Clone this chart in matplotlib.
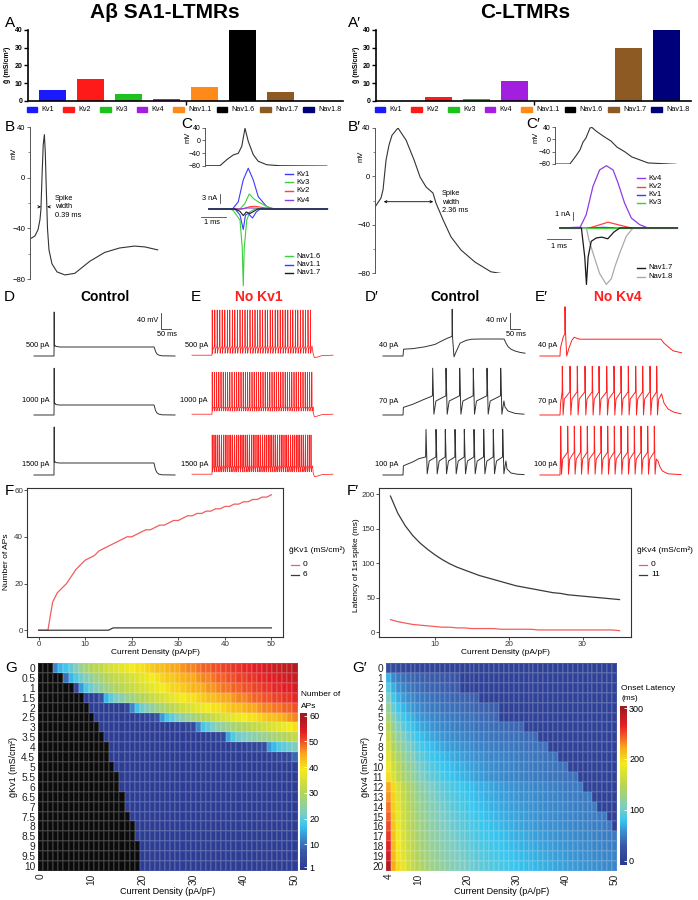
import matplotlib
matplotlib.use("Agg")
import matplotlib.pyplot as plt
import numpy as np
from matplotlib.colors import LinearSegmentedColormap, Normalize
from matplotlib.lines import Line2D
from matplotlib.patches import Rectangle
from matplotlib.ticker import MultipleLocator

plt.rcParams["font.family"] = ["Liberation Sans", "DejaVu Sans"]

W, H = 698, 900

# ---------------- data ----------------
channels = ["Kv1", "Kv2", "Kv3", "Kv4", "Nav1.1", "Nav1.6", "Nav1.7", "Nav1.8"]
channel_colors = ["#1a1aff", "#ff1a1a", "#1ec21e", "#a21fe0", "#ff8a1a", "#000000", "#8c5a22", "#00007a"]
gbar_sa1 = [6, 12, 4, 0.8, 8, 40, 5, 0]
gbar_c = [0, 2, 0.9, 11, 0, 0, 30, 40]

# B: SA1 action potential (ms, mV)
b_t = [0, 0.43, 0.7, 0.87, 0.95, 1.05, 1.15, 1.25, 1.33, 1.42, 1.52, 1.65, 1.91, 2.35, 3.04,
       3.9, 5.2, 6.5, 7.8, 9.1, 10.0, 11.1]
b_v = [-48.4, -46, -41, -33, -25, 2, 26, 34, 20, -10, -40, -57, -68, -74.4, -76.8,
       -75.5, -66, -59, -55.5, -54, -54.7, -57]
# C: SA1 spike and currents
c_vt = [0, 0.6, 0.87, 1.13, 1.33, 1.47, 1.6, 1.73, 1.93, 2.13, 2.47, 3.0, 4.87]
c_vv = [-80, -80, -61, -46, -41, -19, 38, -3, -45, -66, -77, -80, -81]
c_currents = [
    ("Kv1", "#3b3bff", [0.15, 1.1, 1.33, 1.53, 1.73, 1.93, 2.13, 2.47, 2.73, 4.9],
     [0, 0, 2.4, 9.7, 13.6, 9.7, 4.1, 0.8, 0, 0]),
    ("Kv3", "#3ccf3c", [0.15, 1.4, 1.6, 1.77, 1.95, 2.13, 2.47, 2.8, 4.9],
     [0, 0, 1.9, 5.0, 3.4, 2.4, 0.8, 0, 0]),
    ("Kv2", "#ff4040", [0.15, 1.5, 1.8, 2.0, 2.4, 2.8, 4.9], [0, 0, 0.8, 0.9, 0.4, 0, 0]),
    ("Kv4", "#8c3ce6", [0.15, 1.4, 1.7, 2.0, 2.5, 4.9], [0, 0, 0.35, 0.3, 0, 0]),
    ("Nav1.6", "#3ccf3c", [0.15, 1.0, 1.13, 1.4, 1.49, 1.53, 1.57, 1.67, 1.8, 2.0, 4.9],
     [0, 0, -0.5, -3.7, -13, -25.6, -13, -3.7, -0.9, 0, 0]),
    ("Nav1.1", "#3b3bff", [0.15, 1.2, 1.4, 1.53, 1.62, 1.73, 1.9, 2.05, 2.2, 4.9],
     [0, 0, -2, -6.8, -2, -1.5, -3, -1, 0, 0]),
    ("Nav1.7", "#1a1a1a", [0.15, 1.2, 1.4, 1.53, 1.65, 1.8, 1.95, 2.1, 4.9],
     [0, 0, -0.8, -2.2, -1, -1.5, -0.8, 0, 0]),
]
# B': C-LTMR action potential
bp_t = [0, 0.26, 0.35, 0.48, 0.61, 0.74, 1.0, 1.35, 1.7, 1.96, 2.22, 2.52, 2.65, 2.96, 3.3,
        3.74, 4.35, 5.04, 6.0]
bp_v = [-25.4, -18, -11, 13.5, 26, 34, 40, 30, 13.5, -0.6, -8.8, -13.8, -22, -36, -50,
        -61, -71, -79, -82]
# C': C-LTMR spike and currents
cp_vt = [0, 0.62, 0.87, 1.04, 1.17, 1.29, 1.46, 1.54, 1.71, 2.0, 2.33, 2.58, 2.92, 3.2, 3.88, 5.04]
cp_vv = [-80, -80, -54, -34.5, -8.6, 4.3, 37, 38.4, 27, 11, -5.4, -25, -41, -57, -76.6, -81]
cp_currents = [
    ("Kv4", "#8c3ce6", [0.2, 1.05, 1.3, 1.58, 1.86, 2.14, 2.42, 2.63, 2.9, 3.18, 3.53, 3.88, 5.1],
     [0, 0.1, 1.6, 5.0, 7.0, 7.5, 7.0, 5.4, 3.0, 1.2, 0.4, 0, 0]),
    ("Kv2", "#ff4040", [0.2, 1.4, 1.66, 2.21, 2.76, 3.18, 5.1], [0, 0, 0.2, 0.7, 0.3, 0, 0]),
    ("Kv1", "#3b3bff", [0.2, 1.4, 2.0, 2.6, 5.1], [0, 0, 0.08, 0, 0]),
    ("Kv3", "#3ccf3c", [0.2, 5.1], [0, 0]),
    ("Nav1.8", "#aaaaaa", [0.2, 1.31, 1.41, 1.58, 1.86, 2.14, 2.35, 2.49, 2.7, 2.97, 3.25, 5.1],
     [0, 0, -1.4, -3.0, -5.5, -6.8, -6.1, -4.7, -3.0, -1.0, 0, 0]),
    ("Nav1.7", "#1a1a1a", [0.2, 1.1, 1.24, 1.31, 1.38, 1.51, 1.72, 1.95, 2.2, 2.45, 2.7, 5.1],
     [0, 0, -3.5, -6.8, -3.5, -1.6, -1.2, -1.1, -1.3, -0.5, 0, 0]),
]

# D: SA1 control, single spike at step onset
d_rows = [
    ("500 pA", [0, 100, 100.3, 101, 102, 104, 110, 130, 600, 603, 608, 615, 625, 640, 705],
     [-65, -65, -45, 45, -40, -38, -41, -42.5, -42.5, -46, -54, -60, -63, -64.5, -65]),
    ("1000 pA", [0, 100, 100.3, 101, 102, 104, 110, 130, 600, 603, 608, 615, 625, 640, 705],
     [-65, -65, -42, 52, -37, -35, -39, -40, -40, -45, -54, -60, -63, -64.5, -65]),
    ("1500 pA", [0, 100, 100.3, 101, 102, 104, 110, 130, 600, 603, 608, 615, 625, 640, 705],
     [-65, -65, -38, 55, -33, -31, -34, -35, -35, -42, -52, -59, -63, -64.5, -65]),
]
# E: SA1 without Kv1, spike times (ms)
e_spikes_500 = [101, 114, 126, 139, 151, 164, 177, 189, 202, 214, 227, 240, 252, 265, 277, 290,
                303, 315, 328, 340, 353, 366, 378, 391, 403, 416, 429, 441, 454, 466, 479, 492,
                504, 517, 529, 542, 555, 567, 580, 592]
e_spikes_1000 = [101, 112, 123, 134, 145, 156, 167, 178, 189, 200, 212, 223, 234, 245, 256, 267,
                 278, 289, 300, 311, 322, 333, 344, 355, 366, 378, 389, 400, 411, 422, 433, 444,
                 455, 466, 477, 488, 499, 510, 521, 532, 544, 555, 566, 577, 588, 599]
e_spikes_1500 = [101, 110, 119, 129, 138, 147, 157, 166, 175, 185, 194, 203, 213, 222, 231, 241,
                 250, 259, 269, 278, 287, 297, 306, 315, 325, 334, 343, 353, 362, 371, 381, 390,
                 399, 409, 418, 427, 437, 446, 455, 465, 474, 483, 493, 502, 511, 521, 530, 539,
                 549, 558, 567, 577, 586, 595]
# D': C-LTMR control
dp_40_t = [0, 100, 103, 150, 210, 260, 293, 320, 340, 345, 346, 348, 355, 365, 385, 415, 443,
           500, 600, 606, 615, 626, 640, 660, 685, 710]
dp_40_v = [-65, -65, -48, -46.5, -42, -36, -27.5, -21, -17, -16, 52, -20, -67, -55, -33, -26,
           -23, -22.5, -22.5, -23, -33, -42, -48, -52.5, -56, -58]
dp_spikes_70 = [248.5, 315, 383.5, 451.5, 520, 588.5]
dp_spikes_100 = [215, 265, 311.5, 360, 406.5, 455, 503.5, 551.5, 598.5]
# E': C-LTMR without Kv4
ep_40_t = [0, 100, 102, 116.5, 124, 125, 127, 133.5, 145, 160, 171.5, 185, 200, 605, 620, 641,
           665, 708]
ep_40_v = [-65, -65, -45, -17, -10, 58, 0, -65, -45, -25, -18, -21, -23, -23, -33, -42, -52, -57]
ep_spikes_70 = [111.5, 150, 186.5, 225, 261.5, 295, 333.5, 370, 405, 441.5, 478.5, 513.5, 550, 583.5]
ep_spikes_100 = [103.5, 138.5, 171.5, 203.5, 236.5, 271.5, 305, 338.5, 371.5, 405, 438.5, 471.5,
                 505, 538.5, 571.5]

# G: number of APs, rows gKv1 = 0..10 (step 0.5), columns 0..50 pA/pF
density = list(range(0, 51))
gkv1_labels = ["0", "0.5", "1", "1.5", "2", "2.5", "3", "3.5", "4", "4.5", "5", "5.5", "6",
               "6.5", "7", "7.5", "8", "8.5", "9", "9.5", "10"]
aps_grid = [
    [0, 0, 0, 12, 16, 18, 20, 23, 26, 28, 30, 31, 32, 34, 35, 36, 37, 38, 39, 40, 40, 41, 42, 43,
     43, 44, 45, 45, 46, 47, 47, 48, 49, 49, 50, 50, 51, 51, 52, 52, 53, 53, 54, 54, 55, 55, 56,
     56, 57, 57, 58],
    [0] * 5 + [10, 16, 19, 21, 23, 25, 27, 28, 30, 31, 32, 33, 34, 35, 36, 37, 38, 39, 40, 41, 42,
               42, 43, 44, 45, 45, 46, 47, 47, 48, 49, 49, 50, 50, 51, 51, 52, 52, 53, 53, 54,
               54, 55, 55, 56, 56],
    [0] * 7 + [3, 14, 19, 21, 23, 25, 27, 28, 30, 31, 32, 33, 34, 35, 36, 37, 38, 39, 40, 41, 41,
               42, 43, 44, 44, 45, 46, 46, 47, 48, 48, 49, 49, 50, 50, 51, 51, 52, 52, 53, 53,
               54, 54, 55],
    [0] * 9 + [1, 1, 2, 6, 16, 20, 22, 24, 26, 27, 29, 30, 31, 33, 34, 35, 36, 37, 38, 39, 40,
               40, 41, 42, 43, 43, 44, 45, 45, 46, 47, 47, 48, 49, 49, 50, 50, 51, 51, 52, 52, 53],
    [0] * 10 + [1] * 7 + [3, 12, 18, 21, 23, 25, 27, 28, 30, 31, 32, 34, 35, 36, 37, 38, 39, 40,
                          40, 41, 42, 43, 43, 44, 45, 45, 46, 47, 47, 48, 48, 49, 49, 50],
    [0] * 11 + [1] * 8 + [2, 2, 3, 4, 6, 14, 18, 20, 22, 24, 26, 27, 29, 30, 31, 33, 34, 35, 36,
                          37, 38, 39, 40, 40, 41, 42, 43, 43, 44, 45, 46, 47],
    [0] * 12 + [1] * 15 + [2, 2, 3, 4, 12, 18, 20, 22, 24, 25, 27, 28, 29, 30, 31, 32, 33, 34,
                           35, 36, 37, 38, 39, 40],
    [0] * 13 + [1] * 20 + [2, 2, 3, 4, 15, 19, 21, 22, 23, 24, 25, 26, 27, 28, 29, 30, 31, 32],
    [0] * 14 + [1] * 24 + [2, 2, 2, 3, 3, 4, 5, 14, 16, 19, 20, 21, 22],
    [0] * 14 + [1] * 31 + [2, 2, 3, 3, 4, 9],
    [0] * 15 + [1] * 36,
    [0] * 16 + [1] * 35,
    [0] * 16 + [1] * 35,
    [0] * 17 + [1] * 34,
    [0] * 17 + [1] * 34,
    [0] * 18 + [1] * 33,
    [0] * 19 + [1] * 32,
    [0] * 19 + [1] * 32,
    [0] * 20 + [1] * 31,
    [0] * 20 + [1] * 31,
    [0] * 20 + [1] * 31,
]

# G': onset latency (ms), rows gKv4 = 0..20, columns 4..50 pA/pF
density_lat = list(range(4, 51))
gkv4_labels = [str(k) for k in range(0, 21)]
latency_grid = [
    [18, 15, 13, 11, 10, 9, 8, 7, 7, 6, 6, 5, 5, 5, 5, 4, 4, 4, 4, 4, 3, 3, 3, 3, 3, 3, 3, 3, 3,
     3, 3, 2, 2, 2, 2, 2, 2, 2, 2, 2, 2, 2, 2, 2, 2, 2, 2],
    [72, 55, 47, 42, 39, 37, 35, 34, 33, 32, 31, 30, 29, 28, 27] + [3] * 32,
    [90, 70, 59, 52, 47, 44, 41, 39, 37, 36, 35, 34, 33, 32, 31] + [3] * 32,
    [105, 84, 71, 63, 57, 53, 50, 47, 45, 43, 41, 40, 39, 38, 37, 36, 35, 34, 33] + [3] * 28,
    [120, 97, 83, 73, 66, 61, 57, 53, 50, 48, 46, 44, 43, 42, 41, 40, 39, 38, 37, 36, 35, 34,
     33] + [3] * 24,
    [134, 110, 94, 83, 75, 69, 64, 60, 57, 54, 52, 50, 48, 47, 46, 44, 43, 42, 41, 40, 39, 38,
     37] + [3] * 24,
    [146, 122, 106, 94, 85, 78, 72, 67, 63, 60, 57, 55, 53, 51, 49, 48, 46, 45, 44, 43, 42, 41,
     40, 40, 39, 38, 38, 37] + [3] * 19,
    [158, 135, 118, 106, 96, 88, 81, 76, 71, 67, 64, 61, 59, 57, 55, 53, 51, 50, 49, 47, 46, 45,
     44, 44, 43, 42, 42, 41, 40, 40, 39] + [3] * 16,
    [168, 145, 128, 116, 106, 97, 90, 84, 79, 75, 71, 68, 65, 63, 61, 59, 57, 55, 54, 52, 51, 50,
     49, 48, 47, 46, 45, 45, 44, 43, 43, 42, 42] + [3] * 14,
    [178, 155, 138, 125, 115, 106, 98, 92, 87, 82, 78, 75, 72, 69, 67, 64, 62, 60, 58, 57, 55,
     54, 53, 52, 51, 50, 49, 48, 47, 46, 45, 45, 44, 43, 43] + [3] * 12,
    [188, 165, 148, 134, 123, 114, 106, 100, 94, 89, 85, 81, 78, 75, 72, 70, 67, 65, 63, 61, 59,
     57, 56, 54, 53, 52, 51, 50, 49, 48, 47, 46, 45, 45, 44, 43, 43] + [3] * 10,
    [197, 172, 154, 140, 129, 120, 112, 105, 99, 94, 90, 86, 82, 79, 76, 73, 70, 67, 65, 63, 61,
     59, 57, 56, 54, 53, 52, 51, 50, 49, 48, 47, 46, 45, 45, 44, 43, 43, 42] + [3] * 8,
    [222, 200, 172, 154, 141, 130, 121, 114, 108, 103, 98, 94, 90, 87, 84, 81, 78, 75, 73, 71,
     69, 67, 65, 63, 61, 60, 58, 57, 56, 55, 54, 53, 52, 51, 50, 49, 48, 48, 47, 46] + [3] * 7,
    [228, 203, 176, 158, 145, 134, 125, 118, 112, 106, 101, 97, 93, 90, 87, 84, 81, 78, 76, 74,
     71, 69, 67, 65, 64, 62, 61, 59, 58, 57, 56, 55, 54, 53, 52, 51, 50, 49, 49, 48, 47, 47]
    + [3] * 5,
    [236, 205, 180, 162, 149, 138, 129, 122, 115, 110, 105, 101, 97, 93, 90, 87, 84, 81, 79, 77,
     74, 72, 70, 68, 66, 65, 63, 62, 60, 59, 58, 57, 56, 55, 54, 53, 52, 51, 50, 50, 49, 48, 48]
    + [3] * 4,
    [243, 207, 183, 166, 152, 141, 132, 125, 118, 113, 108, 104, 100, 96, 93, 90, 87, 84, 82, 80,
     77, 75, 73, 71, 69, 67, 66, 64, 63, 61, 60, 59, 58, 57, 56, 55, 54, 53, 52, 51, 50, 49, 49,
     48, 47] + [3] * 2,
    [250, 209, 186, 169, 155, 144, 135, 128, 121, 116, 111, 107, 103, 99, 96, 93, 90, 87, 85, 82,
     80, 78, 76, 74, 72, 70, 68, 67, 65, 64, 62, 61, 60, 59, 58, 57, 56, 55, 54, 53, 52, 51, 50,
     50, 49, 48] + [3],
    [257, 211, 189, 172, 158, 147, 138, 131, 124, 119, 114, 110, 106, 102, 99, 96, 93, 90, 87, 85,
     83, 81, 79, 77, 75, 73, 71, 70, 68, 66, 65, 64, 62, 61, 60, 59, 58, 57, 56, 55, 54, 53, 52,
     51, 50, 49, 48],
    [265, 213, 192, 175, 161, 150, 141, 134, 127, 122, 117, 113, 109, 105, 102, 99, 96, 93, 90,
     88, 86, 84, 82, 80, 78, 76, 74, 72, 71, 69, 68, 66, 65, 64, 62, 61, 60, 59, 58, 57, 56, 55,
     54, 53, 52, 51, 50],
    [275, 216, 195, 178, 164, 153, 144, 137, 130, 125, 120, 116, 112, 108, 105, 102, 99, 96, 93,
     91, 89, 87, 85, 83, 81, 79, 77, 75, 74, 72, 71, 69, 68, 66, 65, 64, 62, 61, 60, 59, 58, 57,
     56, 55, 54, 53, 52],
    [290, 220, 198, 181, 167, 156, 147, 140, 133, 128, 123, 119, 115, 111, 108, 105, 102, 99, 96,
     94, 92, 90, 88, 86, 84, 82, 80, 78, 76, 75, 73, 72, 70, 69, 67, 66, 65, 63, 62, 61, 60, 59,
     58, 57, 56, 55, 54],
]

heat_stops = [0.0, 0.12, 0.21, 0.28, 0.36, 0.5, 0.64, 0.74, 0.82, 0.88, 0.97, 1.0]
heat_colors = ["#2a3990", "#3b57a7", "#3a8fd0", "#36c5f0", "#7dcdc4", "#b7d554", "#f3eb1b",
               "#f9a81b", "#f0512a", "#e41f26", "#a81a1e", "#9b1b1e"]
heat_cmap = LinearSegmentedColormap.from_list("heat", list(zip(heat_stops, heat_colors)))

RED = "#ff2020"
FRED = "#f25c5c"
FBLACK = "#3a3a3a"

fig = plt.figure(figsize=(W / 100, H / 100), dpi=100)


def px_axes(x0, y0, x1, y1):
    return fig.add_axes([x0 / W, 1 - y1 / H, (x1 - x0) / W, (y1 - y0) / H])


def ftext(x, y, s, **kw):
    kw.setdefault("va", "center")
    kw.setdefault("ha", "left")
    fig.text(x / W, 1 - y / H, s, **kw)


def fline(xs, ys, **kw):
    fig.add_artist(Line2D([x / W for x in xs], [1 - y / H for y in ys], **kw))


# ---------- titles and panel letters ----------
ftext(165, 13, "Aβ SA1-LTMRs", ha="center", fontsize=15, fontweight="bold")
ftext(525, 13, "C-LTMRs", ha="center", fontsize=15, fontweight="bold")
for lab, x, y in [("A", 5, 23), ("A′", 348, 23), ("B", 5, 127), ("C", 181, 124),
                  ("B′", 348, 127), ("C′", 526, 124), ("D", 4, 297), ("E", 191, 297),
                  ("D′", 365, 297), ("E′", 535, 297), ("F", 5, 491), ("F′", 347, 491),
                  ("G", 5, 668), ("G′", 352, 668)]:
    ftext(x, y, lab, fontsize=11)

# ---------- A / A' bar charts ----------
legend_x = [26.7, 63.3, 100, 136.7, 173.3, 216.7, 260, 303.3]
for x0, vals in [(0, gbar_sa1), (348, gbar_c)]:
    ax = px_axes(x0 + 28, 30, x0 + 343, 100.7)
    ax.bar(range(len(channels)), vals, width=0.71, color=channel_colors)
    ax.set_xlim(-0.645, 7.64)
    ax.set_ylim(0, 40)
    ax.spines[["top", "right"]].set_visible(False)
    ax.spines[["left", "bottom"]].set_linewidth(1.2)
    ax.set_yticks([0, 10, 20, 30, 40])
    ax.set_xticks([3.5])
    ax.set_xticklabels([""])
    ax.tick_params(length=3, width=1, labelsize=5, pad=1)
    for t in ax.get_yticklabels():
        t.set_fontweight("bold")
    ftext(x0 + 8, 65, "ḡ (mS/cm²)", ha="center", rotation=90, fontsize=5, fontweight="bold")
    for i, (name, col) in enumerate(zip(channels, channel_colors)):
        lx = x0 + legend_x[i]
        fig.add_artist(Rectangle((lx / W, 1 - 111.5 / H), 10.7 / W, 4.7 / H,
                                 transform=fig.transFigure, color=col))
        ftext(lx + 15, 109.2, name, fontsize=5.2)


def mv_axis(ax, labelsize):
    ax.set_ylim(-80, 40)
    ax.set_yticks([-80, -40, 0, 40])
    ax.yaxis.set_minor_locator(MultipleLocator(20))
    ax.spines[["top", "right", "bottom"]].set_visible(False)
    ax.spines["left"].set_linewidth(0.7)
    ax.spines["left"].set_color("#555555")
    ax.set_xticks([])
    ax.tick_params(axis="y", which="major", length=2.5, width=0.6, labelsize=labelsize, pad=1,
                   color="#555555")
    ax.tick_params(axis="y", which="minor", length=1.5, width=0.5, color="#555555")
    ax.patch.set_alpha(0)


# ---------- B ----------
ax = px_axes(30, 127, 168, 279)
ax.plot(b_t, b_v, color="#333333", lw=0.8)
ax.set_xlim(0, 12)
mv_axis(ax, 5.5)
ax.annotate("", xy=(0.95, -23), xytext=(0.55, -23),
            arrowprops=dict(arrowstyle="->", lw=0.6, mutation_scale=4))
ax.annotate("", xy=(1.5, -23), xytext=(1.9, -23),
            arrowprops=dict(arrowstyle="->", lw=0.6, mutation_scale=4))
ftext(14, 153, "mV", ha="center", rotation=90, fontsize=5.5)
ftext(55, 207, "Spike\nwidth\n0.39 ms", fontsize=5.3, linespacing=1.25)

# ---------- C ----------
ax = px_axes(205, 127.7, 330, 165.7)
ax.plot(c_vt, c_vv, color="#333333", lw=0.8)
ax.set_xlim(0, 5)
mv_axis(ax, 5)
ax.yaxis.set_minor_locator(MultipleLocator(40))
ftext(188, 137, "mV", ha="center", rotation=90, fontsize=5.5)

ax = px_axes(205, 160, 330, 292)
for name, col, tt, ii in c_currents:
    ax.plot(tt, ii, color=col, lw=0.8)
ax.set_xlim(0, 5)
ax.set_ylim(-(292 - 209) / 3, (209 - 160) / 3)
ax.axis("off")
ax.plot([0.6, 0.6], [2.1, 5.1], color="#444444", lw=0.6, clip_on=False)
ax.plot([-0.16, 0.84], [-2.6, -2.6], color="#444444", lw=0.6, clip_on=False)
ftext(217, 198, "3 nA", ha="right", fontsize=5.3)
ftext(212, 222.5, "1 ms", ha="center", fontsize=5.3)
for (name, col, _, _), y in zip(c_currents, [174, 182, 191, 200, 256, 264.5, 273]):
    fline([285, 293], [y, y], color=col, lw=1.0)
    ftext(296, y, name, fontsize=5.5)

# ---------- B' ----------
ax = px_axes(375, 128, 524.5, 273)
ax.plot(bp_t, bp_v, color="#333333", lw=0.8)
ax.set_xlim(0, 6.5)
mv_axis(ax, 5.5)
ax.annotate("", xy=(0.26, -21), xytext=(2.65, -21),
            arrowprops=dict(arrowstyle="<->", lw=0.6, mutation_scale=4))
ftext(361, 156, "mV", ha="center", rotation=90, fontsize=5.5)
ftext(442, 202, "Spike\nwidth\n2.36 ms", fontsize=5.3, linespacing=1.25)

# ---------- C' ----------
ax = px_axes(555, 127, 680, 164)
ax.plot(cp_vt, cp_vv, color="#333333", lw=0.8)
ax.set_xlim(0, 125 / 24)
mv_axis(ax, 5)
ax.yaxis.set_minor_locator(MultipleLocator(40))
ftext(536, 137, "mV", ha="center", rotation=90, fontsize=5.5)

ax = px_axes(555, 160, 680, 292)
for name, col, tt, ii in cp_currents:
    ax.plot(tt, ii, color=col, lw=0.9)
ax.set_xlim(0, 125 / 24)
ax.set_ylim(-(292 - 228) / 8.3, (228 - 160) / 8.3)
ax.axis("off")
ax.plot([0.75, 0.75], [0.96, 1.96], color="#444444", lw=0.6, clip_on=False)
ax.plot([-0.33, 0.67], [-1.33, -1.33], color="#444444", lw=0.6, clip_on=False)
ftext(570, 215, "1 nA", ha="right", fontsize=5.3)
ftext(559, 247, "1 ms", ha="center", fontsize=5.3)
for (name, col, _, _), y in zip(cp_currents, [178, 186.5, 195, 203, 277, 268]):
    fline([637, 645], [y, y], color=col, lw=1.0)
    ftext(648, y, name, fontsize=5.5)


# ---------- D, E, D', E' voltage traces ----------
def build_train(lead_t, lead_v, spikes, peak, trough, mid, pre, tail_t, tail_v,
                d_tr=1.5, d_mid=4.0):
    t = list(lead_t)
    v = list(lead_v)
    for i, s in enumerate(spikes):
        if i > 0:
            t.append(s - 0.8)
            v.append(pre)
        t += [s, s + d_tr, s + d_mid]
        v += [peak, trough, mid]
    t += list(tail_t)
    v += list(tail_v)
    return t, v


row_offset = [0, -147.5, -297.5]


def trace_axes(x_t0):
    ax = px_axes(x_t0 - 4, 300, x_t0 + 146, 490)
    ax.set_xlim(-20, 730)
    ax.set_ylim(-400, 75)
    ax.axis("off")
    return ax


def scale_bar(ax, x_t0):
    t_bar = 635
    ax.plot([t_bar, t_bar, t_bar + 50], [42.5, 2.5, 2.5], color="#333333", lw=0.6)
    ftext(x_t0 + 124, 321, "40 mV", ha="right", fontsize=5.3)
    ftext(x_t0 + 133, 335, "50 ms", ha="center", fontsize=5.3)


# D
ax = trace_axes(34)
for k, (lab, tt, vv) in enumerate(d_rows):
    ax.plot(tt, np.array(vv) + row_offset[k], color="#333333", lw=0.7)
    ftext(49, [346, 401, 464][k], lab, ha="right", fontsize=5.3)
scale_bar(ax, 34)
ftext(105, 297, "Control", ha="center", fontsize=10, fontweight="bold")

# E
ax = trace_axes(192)
e_rows = [("500 pA", e_spikes_500, 50, -58, -48, -40),
          ("1000 pA", e_spikes_1000, 42, -55, -48, -45),
          ("1500 pA", e_spikes_1500, 35, -57, -47, -42)]
for k, (lab, spk, pk, tr, md, pr) in enumerate(e_rows):
    tt, vv = build_train([0, 100, 100.5], [-63, -63, pr], spk, pk, tr, md, pr,
                         [spk[-1] + 8, 606, 612, 625, 650, 705], [pr, -60, -69, -68, -64, -63])
    ax.plot(tt, np.array(vv) + row_offset[k], color=RED, lw=0.55)
    ftext(208, [346, 401, 464][k], lab, ha="right", fontsize=5.3)
ftext(259, 297, "No Kv1", ha="center", fontsize=10, fontweight="bold", color=RED)

# D'
ax = trace_axes(383)
ax.plot(dp_40_t, np.array(dp_40_v) + row_offset[0], color="#333333", lw=0.7)
tt, vv = build_train([0, 100, 102, 150, 200, 240, 247], [-65, -65, -46, -38, -27, -19, -17],
                     dp_spikes_70, 52, -63, -30, -17,
                     [610, 625, 660, 705], [-45, -55, -61, -63], d_tr=6, d_mid=16)
ax.plot(tt, np.array(vv) + row_offset[1], color="#333333", lw=0.7)
tt, vv = build_train([0, 100, 102, 150, 180, 213], [-65, -65, -42, -32, -24, -20],
                     dp_spikes_100, 49, -62, -30, -20,
                     [620, 640, 670, 705], [-50, -60, -63, -64], d_tr=6, d_mid=16)
ax.plot(tt, np.array(vv) + row_offset[2], color="#333333", lw=0.7)
for lab, y in [("40 pA", 346), ("70 pA", 401.7), ("100 pA", 464)]:
    ftext(398, y, lab, ha="right", fontsize=5.3)
scale_bar(ax, 383)
ftext(455, 297, "Control", ha="center", fontsize=10, fontweight="bold")

# E'
ax = trace_axes(540)
ax.plot(ep_40_t, np.array(ep_40_v) + row_offset[0], color=RED, lw=0.7)
tt, vv = build_train([0, 100, 103, 110.7], [-65, -65, -35, -7], ep_spikes_70, 57, -65, -25, -7,
                     [600, 608, 620, 640, 670, 705], [-20, -12, -35, -50, -58, -62],
                     d_tr=4, d_mid=10)
ax.plot(tt, np.array(vv) + row_offset[1], color=RED, lw=0.7)
tt, vv = build_train([0, 100, 102.7], [-65, -65, -10], ep_spikes_100, 57, -63, -25, -8,
                     [590, 600, 612, 640, 705], [-30, -45, -55, -62, -64], d_tr=4, d_mid=10)
ax.plot(tt, np.array(vv) + row_offset[2], color=RED, lw=0.7)
for lab, y in [("40 pA", 346), ("70 pA", 401.7), ("100 pA", 464)]:
    ftext(557, y, lab, ha="right", fontsize=5.3)
ftext(618, 297, "No Kv4", ha="center", fontsize=10, fontweight="bold", color=RED)


# ---------- F / F' ----------
def gg_frame(ax):
    for s in ax.spines.values():
        s.set_color("#333333")
        s.set_linewidth(0.8)
    ax.tick_params(length=2, width=0.6, color="#333333", labelsize=5.8, labelcolor="#333333",
                   pad=0.8)


ax = px_axes(27, 488, 283, 637)
ax.plot(density, aps_grid[0], color=FRED, lw=0.9)
ax.plot(density, aps_grid[12], color=FBLACK, lw=0.9)
ax.set_xlim(-2.5, 52.5)
ax.set_ylim(-2.9, 60.9)
ax.set_xticks([0, 10, 20, 30, 40, 50])
ax.set_yticks([0, 20, 40, 60])
gg_frame(ax)
ftext(155, 653, "Current Density (pA/pF)", ha="center", fontsize=6)
ftext(7, 562, "Number of APs", ha="center", rotation=90, fontsize=6)
ftext(289, 550, "ḡKv1 (mS/cm²)", fontsize=6)
for y, col, lab in [(565, FRED, "0"), (575, FBLACK, "6")]:
    fline([291, 299], [y, y], color=col, lw=0.9)
    ftext(303, y, lab, fontsize=6)

ax = px_axes(379, 488, 631, 637)
ax.plot(density_lat[:32], latency_grid[0][:32], color=FRED, lw=0.9)
ax.plot(density_lat[:32], latency_grid[11][:32], color=FBLACK, lw=0.9)
ax.set_xlim(2.45, 36.55)
ax.set_ylim(-7.2, 208.7)
ax.set_xticks([10, 20, 30])
ax.set_yticks([0, 50, 100, 150, 200])
gg_frame(ax)
ftext(505, 653, "Current Density (pA/pF)", ha="center", fontsize=6)
ftext(357, 565, "Latency of 1st spike (ms)", ha="center", rotation=90, fontsize=6)
ftext(637, 550, "ḡKv4 (mS/cm²)", fontsize=6)
for y, col, lab in [(565, FRED, "0"), (575, FBLACK, "11")]:
    fline([639, 647], [y, y], color=col, lw=0.9)
    ftext(651, y, lab, fontsize=6)


# ---------- G / G' heatmaps ----------
def heat_panel(box, cols, row_labels, grid, norm, xticks, cbox, cticks, ctitle, ylab, ylab_x):
    ax = px_axes(*box)
    ax.set_facecolor("#0b0b0b")
    cmap = heat_cmap.copy()
    cmap.set_bad("#0b0b0b")
    data = np.ma.masked_equal(np.array(grid, float), 0)
    xe = np.arange(cols[0] - 0.5, cols[-1] + 1)
    ye = np.arange(-0.5, len(row_labels))
    mesh = ax.pcolormesh(xe, ye, data, cmap=cmap, norm=norm,
                         edgecolors=(1, 1, 1, 0.1), linewidth=0.3)
    ax.set_xlim(xe[0], xe[-1])
    ax.set_ylim(ye[-1], ye[0])
    ax.set_yticks(range(len(row_labels)))
    ax.set_yticklabels(row_labels)
    ax.set_xticks(xticks)
    ax.set_xticklabels([str(x) for x in xticks], rotation=90)
    for s in ax.spines.values():
        s.set_visible(False)
    ax.tick_params(length=0, labelsize=7.3, pad=2, labelcolor="#222222")
    cx = (box[0] + box[2]) / 2
    ftext(cx, 892, "Current Density (pA/pF)", ha="center", fontsize=6.5)
    ftext(ylab_x, 767, ylab, ha="center", rotation=90, fontsize=6.5)
    cax = px_axes(*cbox)
    cb = fig.colorbar(mesh, cax=cax)
    cb.set_ticks(cticks)
    cb.outline.set_visible(False)
    cax.tick_params(length=2, width=0.6, color="white", direction="in", labelsize=6.5, pad=1.5)
    for i, line in enumerate(ctitle):
        ftext(cbox[0] + 1, cbox[1] - 18 + 11 * i, line, fontsize=6)


heat_panel((38, 663, 297.5, 871), density, gkv1_labels, aps_grid, Normalize(0, 61),
           [0, 10, 20, 30, 40, 50], (300, 713, 307, 870), [1, 10, 20, 30, 40, 50, 60],
           ["Number of", "APs"], "ḡKv1 (mS/cm²)", 14)
heat_panel((386, 663, 617, 871), density_lat, gkv4_labels, latency_grid, Normalize(-8, 304),
           [4, 10, 20, 30, 40, 50], (620, 706, 627, 865), [0, 100, 200, 300],
           ["Onset Latency", "(ms)"], "ḡKv4 (mS/cm²)", 366)

fig.savefig("out.png", dpi=100)
